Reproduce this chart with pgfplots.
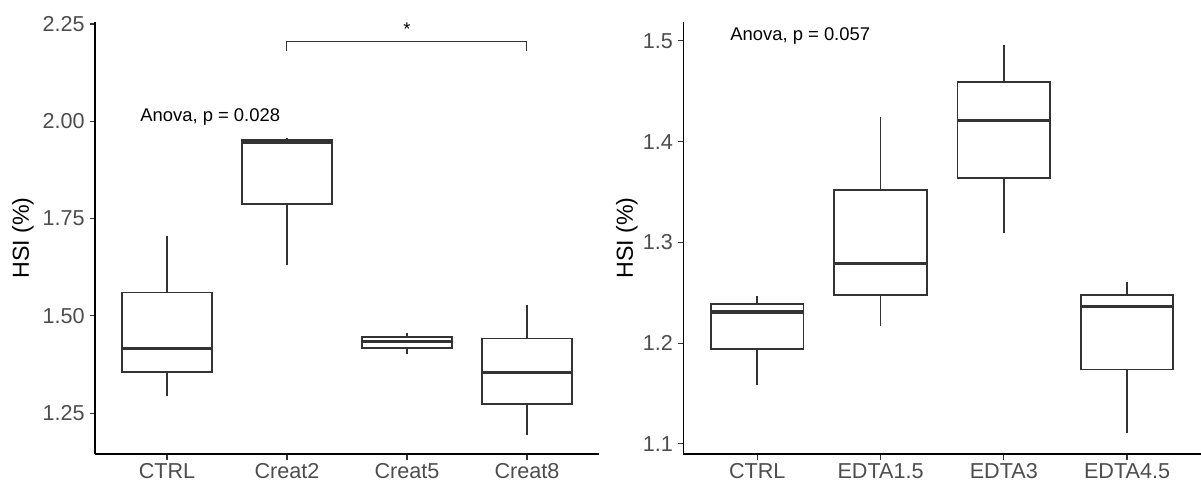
\documentclass[border=0pt]{standalone}
\usepackage{fontspec}
\setmainfont{Liberation Sans}
\usepackage{pgfplots}
\pgfplotsset{compat=1.18}
\usepgfplotslibrary{statistics}
\definecolor{tickgray}{HTML}{4D4D4D}
\definecolor{boxgray}{HTML}{333333}
\pgfplotsset{
  hsibase/.style={
    scale only axis, height=216.15pt,
    axis lines*=left,
    xmin=0.4, xmax=4.6, xtick={1,2,3,4},
    tick align=outside, major tick length=2.75pt,
    tick style={boxgray, line width=0.55pt},
    axis line style={black, line width=0.6pt},
    ticklabel style={font=\fontsize{10.8}{13}\selectfont, text=tickgray},
    xticklabel style={inner sep=2pt},
    yticklabel style={inner sep=2.2pt},
    /pgf/number format/assume math mode=true,
    ylabel={HSI (\%)},
    ylabel style={font=\fontsize{11.6}{13}\selectfont, anchor=center},
    boxplot/draw direction=y,
    boxplot/box extend=0.75,
    boxplot/whisker extend=0,
    boxplot/every median/.style={line width=1.6pt},
    clip=false,
  },
  hsibox/.style={draw=boxgray, line width=0.85pt, solid, mark=none},
}
\begin{document}
\begin{tikzpicture}
\useasboundingbox (0,0) rectangle (600.5pt,242pt);
% ---------------- left panel ----------------
\begin{axis}[hsibase,
  at={(47.5pt,15pt)}, anchor=south west, width=252pt,
  ymin=1.145, ymax=2.256,
  ytick={1.25,1.50,1.75,2.00,2.25},
  yticklabel style={/pgf/number format/.cd, fixed, fixed zerofill, precision=2},
  xticklabels={CTRL,Creat2,Creat5,Creat8},
  ylabel style={at={(axis description cs:-0.143,0.5)}},
]
\addplot[hsibox, boxplot prepared={draw position=1,
  lower whisker=1.293, lower quartile=1.355, median=1.416,
  upper quartile=1.560, upper whisker=1.705}] coordinates {};
\addplot[hsibox, boxplot prepared={draw position=2,
  lower whisker=1.631, lower quartile=1.788, median=1.947,
  upper quartile=1.953, upper whisker=1.958}] coordinates {};
\addplot[hsibox, boxplot prepared={draw position=3,
  lower whisker=1.401, lower quartile=1.418, median=1.435,
  upper quartile=1.446, upper whisker=1.455}] coordinates {};
\addplot[hsibox, boxplot prepared={draw position=4,
  lower whisker=1.193, lower quartile=1.273, median=1.354,
  upper quartile=1.442, upper whisker=1.529}] coordinates {};
\draw[boxgray, line width=0.5pt] (axis cs:2,2.181) -- (axis cs:2,2.205) -- (axis cs:4,2.205) -- (axis cs:4,2.181);
\node[anchor=base, font=\fontsize{9.2}{11}\selectfont, inner sep=0pt] at (axis cs:3,2.220) {*};
\node[anchor=base west, font=\fontsize{9.2}{11}\selectfont, inner sep=0pt] at (axis cs:0.775,2.0) {Anova, p = 0.028};
\end{axis}
% ---------------- right panel ----------------
\begin{axis}[hsibase,
  at={(341.65pt,15pt)}, anchor=south west, width=258.85pt,
  ymin=1.090, ymax=1.519,
  ytick={1.1,1.2,1.3,1.4,1.5},
  yticklabel style={/pgf/number format/.cd, fixed, fixed zerofill, precision=1},
  xticklabels={CTRL,EDTA1.5,EDTA3,EDTA4.5},
  ylabel style={at={(axis description cs:-0.109,0.5)}},
]
\addplot[hsibox, boxplot prepared={draw position=1,
  lower whisker=1.158, lower quartile=1.194, median=1.231,
  upper quartile=1.239, upper whisker=1.247}] coordinates {};
\addplot[hsibox, boxplot prepared={draw position=2,
  lower whisker=1.217, lower quartile=1.248, median=1.279,
  upper quartile=1.352, upper whisker=1.424}] coordinates {};
\addplot[hsibox, boxplot prepared={draw position=3,
  lower whisker=1.309, lower quartile=1.364, median=1.421,
  upper quartile=1.459, upper whisker=1.496}] coordinates {};
\addplot[hsibox, boxplot prepared={draw position=4,
  lower whisker=1.111, lower quartile=1.174, median=1.236,
  upper quartile=1.248, upper whisker=1.261}] coordinates {};
\node[anchor=base west, font=\fontsize{9.2}{11}\selectfont, inner sep=0pt] at (axis cs:0.779,1.5) {Anova, p = 0.057};
\end{axis}
\end{tikzpicture}
\end{document}
